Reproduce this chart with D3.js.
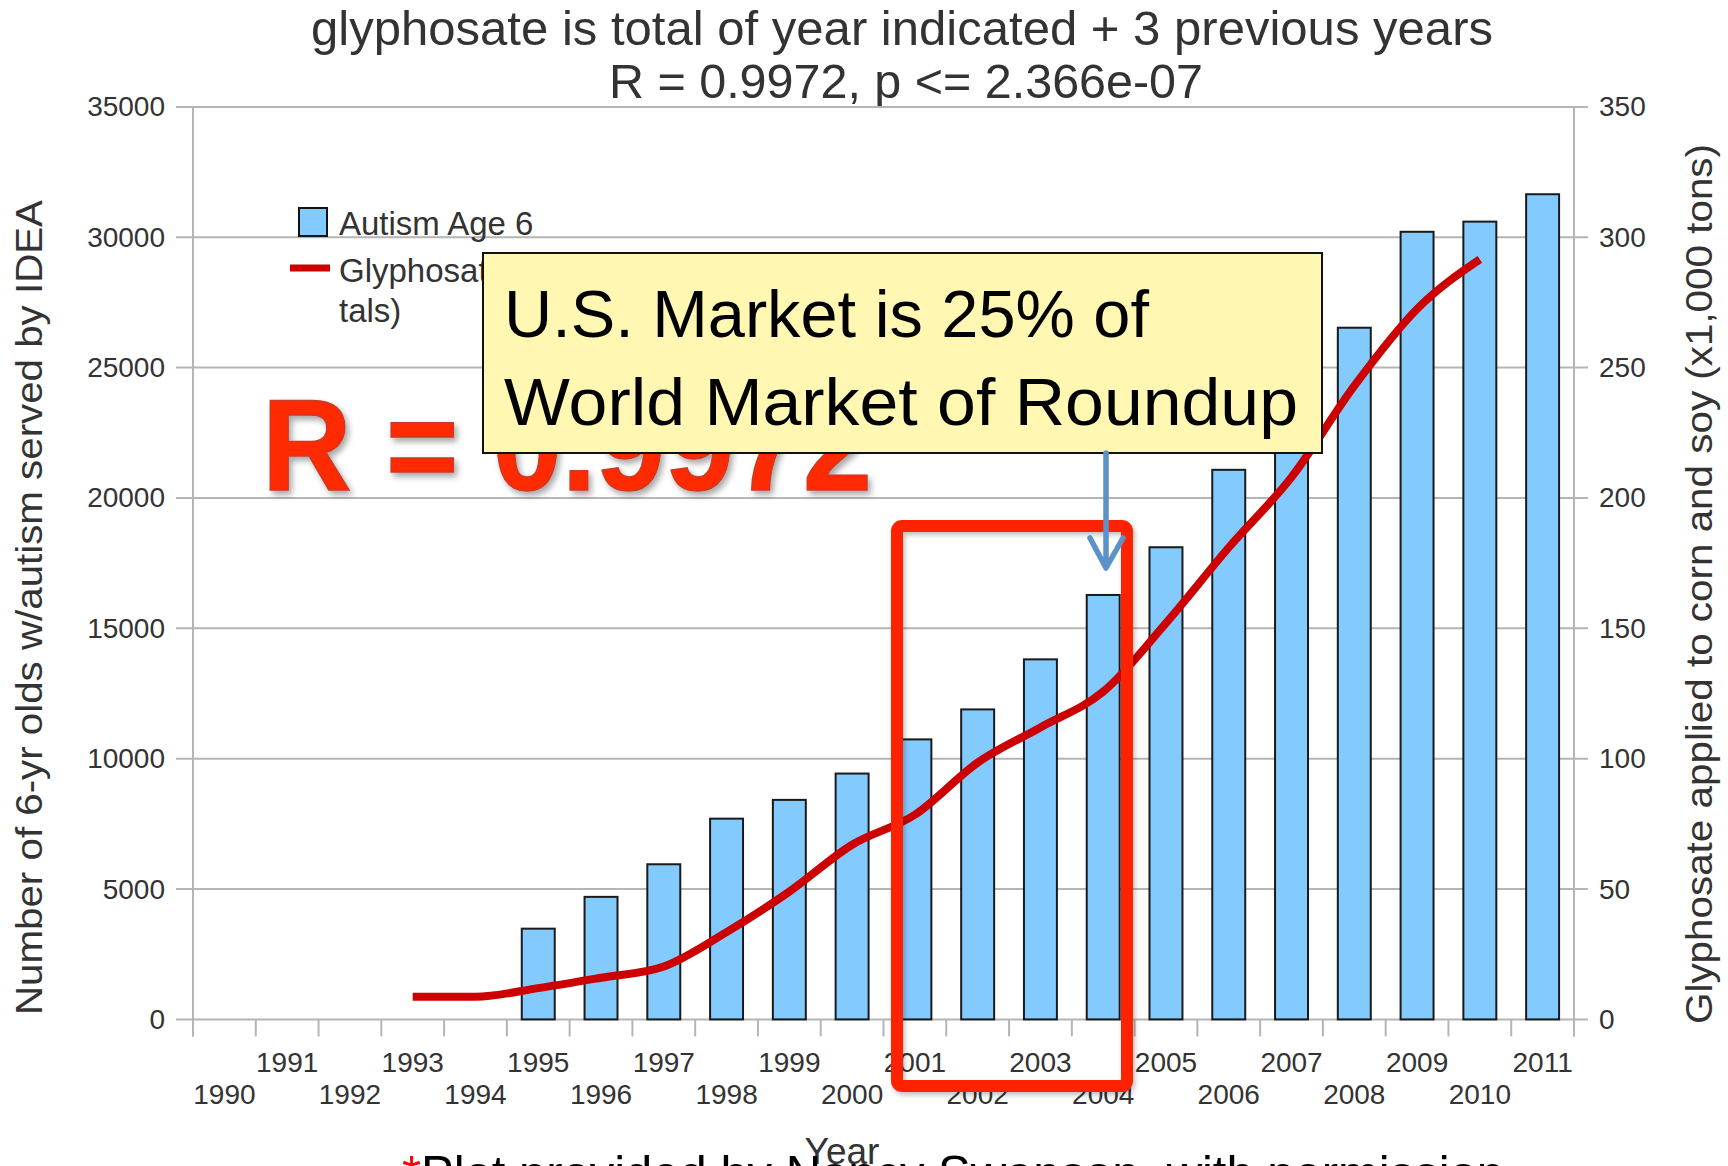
<!DOCTYPE html>
<html>
<head>
<meta charset="utf-8">
<script src="https://cdn.jsdelivr.net/npm/d3@7"></script>
<style>
  body { margin: 0; background: #fff; }
  text { font-family: "Liberation Sans", Arial, sans-serif; }
</style>
</head>
<body>
<div id="chart"></div>
<script>
// values
let years = ['1990', '1991', '1992', '1993', '1994', '1995', '1996', '1997', '1998', '1999', '2000',
             '2001', '2002', '2003', '2004', '2005', '2006', '2007', '2008', '2009', '2010', '2011'];
let autism = [null, null, null, null, null, 3480, 4700, 5950, 7700, 8420, 9430,
              10740, 11890, 13810, 16280, 18110, 21080, 23700, 26530, 30210, 30600, 31650];
let glyphosate = [null, null, null, 8.7, 8.7, 12, 16, 20.3, 33.5, 49, 67,
                  78.5, 98.5, 112, 125.7, 152, 181, 208, 243, 272.5, 291.5, null];
let leftTicks = [0, 5000, 10000, 15000, 20000, 25000, 30000, 35000];
let rightTicks = [0, 50, 100, 150, 200, 250, 300, 350];

let W = 1728, H = 1166;
let pLeft = 193, pRight = 1574, pTop = 106.9, pBottom = 1019.4;
let grey = '#b5b5b5', ink = '#333';

let svg = d3.select('#chart').append('svg')
  .attr('width', W).attr('height', H)
  .style('display', 'block');

let defs = svg.append('defs');
defs.append('filter').attr('id', 'shadow')
  .attr('x', '-10%').attr('y', '-10%').attr('width', '130%').attr('height', '130%')
  .append('feDropShadow')
  .attr('dx', 3).attr('dy', 4).attr('stdDeviation', 3)
  .attr('flood-color', '#000').attr('flood-opacity', 0.35);
defs.append('filter').attr('id', 'soft')
  .attr('x', '-10%').attr('y', '-10%').attr('width', '130%').attr('height', '130%')
  .append('feDropShadow')
  .attr('dx', 2).attr('dy', 3).attr('stdDeviation', 2.5)
  .attr('flood-color', '#000').attr('flood-opacity', 0.25);

let x = d3.scaleBand().domain(years).range([pLeft, pRight]);
let yL = d3.scaleLinear().domain([0, 35000]).range([pBottom, pTop]);
let yR = d3.scaleLinear().domain([0, 350]).range([pBottom, pTop]);
let bw = x.bandwidth();

// title
svg.append('text')
  .attr('x', 902).attr('y', 45)
  .attr('text-anchor', 'middle')
  .attr('font-size', 49).attr('fill', ink)
  .attr('textLength', 1182).attr('lengthAdjust', 'spacingAndGlyphs')
  .text('glyphosate is total of year indicated + 3 previous years');
svg.append('text')
  .attr('x', 906).attr('y', 98)
  .attr('text-anchor', 'middle')
  .attr('font-size', 49).attr('fill', ink)
  .attr('textLength', 594).attr('lengthAdjust', 'spacingAndGlyphs')
  .text('R = 0.9972, p <= 2.366e-07');

// gridlines (with the little outside ticks on both sides)
svg.append('g').selectAll('line')
  .data(leftTicks)
  .enter()
  .append('line')
  .attr('x1', pLeft - 17).attr('x2', pRight + 14)
  .attr('y1', d => yL(d)).attr('y2', d => yL(d))
  .attr('stroke', grey).attr('stroke-width', 2);

// vertical axis lines
[pLeft, pRight].forEach(function(px) {
  svg.append('line')
    .attr('x1', px).attr('x2', px)
    .attr('y1', pTop).attr('y2', pBottom + 17)
    .attr('stroke', grey).attr('stroke-width', 2);
});

// x boundary ticks
svg.append('g').selectAll('line')
  .data(d3.range(years.length + 1))
  .enter()
  .append('line')
  .attr('x1', i => pLeft + i * x.step()).attr('x2', i => pLeft + i * x.step())
  .attr('y1', pBottom).attr('y2', pBottom + 17)
  .attr('stroke', grey).attr('stroke-width', 2);

// axes labels via d3 axes
let gL = svg.append('g')
  .attr('transform', 'translate(' + pLeft + ',0)')
  .call(d3.axisLeft(yL).tickValues(leftTicks).tickFormat(d3.format('d')).tickSize(0).tickPadding(28));
let gR = svg.append('g')
  .attr('transform', 'translate(' + pRight + ',0)')
  .call(d3.axisRight(yR).tickValues(rightTicks).tickFormat(d3.format('d')).tickSize(0).tickPadding(25));
let gX = svg.append('g')
  .attr('transform', 'translate(0,' + pBottom + ')')
  .call(d3.axisBottom(x).tickSize(0));

[gL, gR, gX].forEach(function(g) {
  g.select('.domain').remove();
  g.selectAll('text')
    .attr('font-family', '"Liberation Sans", Arial, sans-serif')
    .attr('font-size', 28)
    .attr('fill', ink);
});
gX.selectAll('text')
  .attr('dy', null)
  .attr('y', (d, i) => i % 2 ? 52.6 : 84.6);

// bars
svg.append('g').selectAll('rect')
  .data(years.map((yr, i) => ({ year: yr, v: autism[i] })).filter(d => d.v != null))
  .enter()
  .append('rect')
  .attr('x', d => x(d.year) + bw * 0.2375)
  .attr('width', bw * 0.525)
  .attr('y', d => yL(d.v))
  .attr('height', d => yL(0) - yL(d.v))
  .attr('fill', '#83caff')
  .attr('stroke', '#1a1a1a')
  .attr('stroke-width', 2);

// glyphosate line
let line = d3.line()
  .defined(d => d.v != null)
  .x(d => x(d.year) + bw / 2)
  .y(d => yR(d.v))
  .curve(d3.curveMonotoneX);

svg.append('path')
  .datum(years.map((yr, i) => ({ year: yr, v: glyphosate[i] })))
  .attr('d', line)
  .attr('fill', 'none')
  .attr('stroke', '#cc0000')
  .attr('stroke-width', 8);

// axis titles
svg.append('text')
  .attr('transform', 'translate(42,607.5) rotate(-90)')
  .attr('text-anchor', 'middle')
  .attr('font-size', 36).attr('fill', ink)
  .attr('textLength', 815).attr('lengthAdjust', 'spacingAndGlyphs')
  .text('Number of 6-yr olds w/autism served by IDEA');
svg.append('text')
  .attr('transform', 'translate(1712,584) rotate(-90)')
  .attr('text-anchor', 'middle')
  .attr('font-size', 36).attr('fill', ink)
  .attr('textLength', 880).attr('lengthAdjust', 'spacingAndGlyphs')
  .text('Glyphosate applied to corn and soy (x1,000 tons)');
svg.append('text')
  .attr('x', 842).attr('y', 1164)
  .attr('text-anchor', 'middle')
  .attr('font-size', 37).attr('fill', ink)
  .text('Year');

// legend
let legend = svg.append('g');
legend.append('rect')
  .attr('x', 299).attr('y', 208).attr('width', 28).attr('height', 28)
  .attr('fill', '#83caff').attr('stroke', '#111').attr('stroke-width', 2);
legend.append('text')
  .attr('x', 339).attr('y', 235)
  .attr('font-size', 33).attr('fill', ink)
  .text('Autism Age 6');
legend.append('line')
  .attr('x1', 290).attr('x2', 330).attr('y1', 268).attr('y2', 268)
  .attr('stroke', '#cc0000').attr('stroke-width', 7);
legend.append('text')
  .attr('x', 339).attr('y', 282)
  .attr('font-size', 33).attr('fill', ink)
  .text('Glyphosate (4 year to');
legend.append('text')
  .attr('x', 339).attr('y', 322)
  .attr('font-size', 33).attr('fill', ink)
  .text('tals)');

// big red R
svg.append('text')
  .attr('x', 262).attr('y', 490)
  .attr('font-family', 'Lato, "Open Sans", sans-serif')
  .attr('font-weight', 900)
  .attr('font-size', 130)
  .attr('fill', '#ff2a00')
  .attr('stroke', '#c93a26').attr('stroke-width', 1.5)
  .attr('textLength', 610).attr('lengthAdjust', 'spacingAndGlyphs')
  .attr('filter', 'url(#shadow)')
  .text('R = 0.9972');

// yellow callout
svg.append('rect')
  .attr('x', 483).attr('y', 253).attr('width', 839).attr('height', 200)
  .attr('fill', '#fff7b2').attr('stroke', '#111').attr('stroke-width', 2);
svg.append('text')
  .attr('x', 504).attr('y', 337)
  .attr('font-family', 'Lato, "Open Sans", sans-serif')
  .attr('font-size', 66).attr('fill', '#000')
  .attr('textLength', 645).attr('lengthAdjust', 'spacingAndGlyphs')
  .text('U.S. Market is 25% of');
svg.append('text')
  .attr('x', 504).attr('y', 425)
  .attr('font-family', 'Lato, "Open Sans", sans-serif')
  .attr('font-size', 66).attr('fill', '#000')
  .attr('textLength', 794).attr('lengthAdjust', 'spacingAndGlyphs')
  .text('World Market of Roundup');

// red highlight box
svg.append('rect')
  .attr('x', 897).attr('y', 526).attr('width', 230).attr('height', 560)
  .attr('rx', 5)
  .attr('fill', 'none')
  .attr('stroke', '#ff2200').attr('stroke-width', 12)
  .attr('filter', 'url(#soft)');

// blue arrow
svg.append('path')
  .attr('d', 'M1106,453 L1106,566 M1090,538 L1106,568 L1123,538')
  .attr('fill', 'none')
  .attr('stroke', '#5b93c9')
  .attr('stroke-width', 5.5)
  .attr('stroke-linecap', 'round')
  .attr('stroke-linejoin', 'round');

// footer
let foot = svg.append('text')
  .attr('x', 402).attr('y', 1191)
  .attr('font-family', 'Lato, "Open Sans", sans-serif')
  .attr('font-size', 50)
  .attr('textLength', 1102).attr('lengthAdjust', 'spacingAndGlyphs');
foot.append('tspan').attr('fill', '#ff0000').text('*');
foot.append('tspan').attr('fill', '#000').text('Plot provided by Nancy Swanson, with permission');
</script>
</body>
</html>
